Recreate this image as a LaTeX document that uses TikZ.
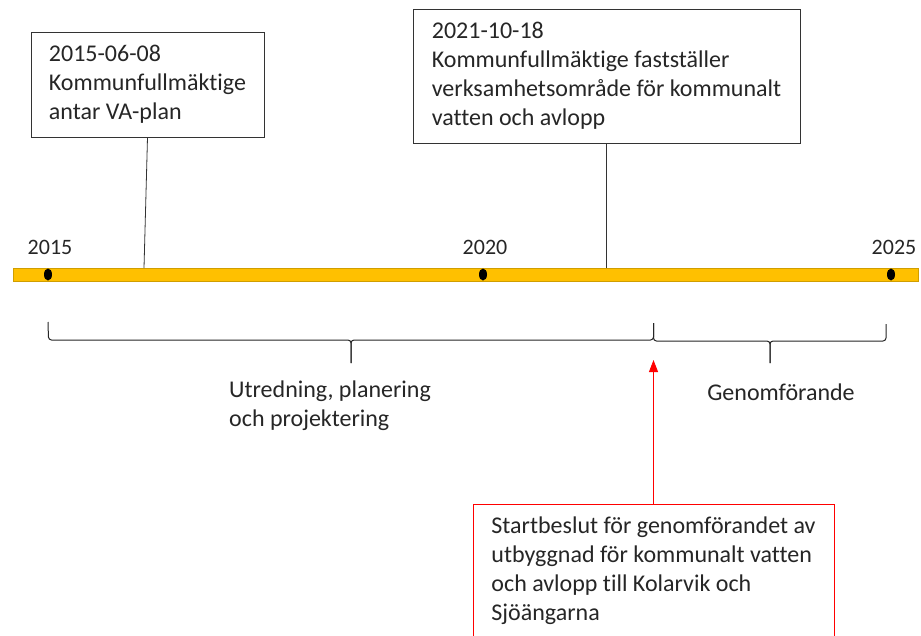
\documentclass[tikz,border=0pt]{standalone}
\usepackage{fontspec}
\setmainfont{Carlito}[Ligatures=NoCommon]
\usetikzlibrary{arrows.meta,shapes.geometric}
\definecolor{barfill}{HTML}{FFC000}
\definecolor{barline}{HTML}{D09E00}
\definecolor{txtgray}{HTML}{262626}
\tikzset{
	eventbox/.style={draw=black!80,line width=0.9pt,align=left,inner sep=0,text=txtgray,font=\fontsize{24}{29}\selectfont},
	yearlabel/.style={inner sep=0,text=txtgray,font=\fontsize{22}{26}\selectfont},
	yeardot/.style={ellipse,fill=black,inner sep=0,minimum width=8,minimum height=12},
	bracket/.style={draw=black!85,line width=1pt,rounded corners=3pt},
	conn/.style={draw=black!80,line width=0.8pt}
}

\begin{document}
\begin{tikzpicture}[x=1pt,y=-1pt]
	\clip (0,0) rectangle (921,635);
	\fill[white] (0,0) rectangle (921,635);
	% tidslinje
	\draw[barline,fill=barfill,line width=0.8pt] (13,268) rectangle (918,281);
	\node[yeardot] (d15) at (48,274.5) {};
	\node[yeardot] (d20) at (483,274.5) {};
	\node[yeardot] (d25) at (891,274.5) {};
	\node[yearlabel] (y15) at (50,247) {2015};
	\node[yearlabel] (y20) at (485,247) {2020};
	\node[yearlabel] (y25) at (894,247) {2025};
	% beslut
	\node[eventbox,minimum width=233,minimum height=105] (kf15) at (147.5,84.5) {2015-06-08\\Kommunfullmäktige\\antar VA-plan};
	\node[eventbox,minimum width=387,minimum height=134] (kf21) at (606.5,76) {2021-10-18\\Kommunfullmäktige fastställer\\verksamhetsområde för kommunalt\\vatten och avlopp};
	\coordinate (t15) at (144,268);
	\coordinate (t21) at (606.5,268);
	\draw[conn] (kf15.south) -- (t15);
	\draw[conn] (kf21.south) -- (t21);
	% faser
	\draw[bracket] (48,322) -- (48.5,340) -- (351,340) -- (351,363);
	\draw[bracket] (351,363) -- (351,340) -- (653.5,340) -- (653.5,323);
	\draw[bracket] (653.5,323) -- (653.5,341) -- (770,341) -- (770,363);
	\draw[bracket] (770,363) -- (770,341) -- (886,341) -- (886,324);
	\node[yearlabel,anchor=west,align=left,font=\fontsize{24}{29}\selectfont] (utr) at (229,406) {Utredning, planering\\och projektering};
	\node[yearlabel,font=\fontsize{24}{29}\selectfont] (gen) at (781,392) {Genomförande};
	% startbeslut
	\node[eventbox,draw=red,minimum width=361,minimum height=134] (start) at (653.5,571) {Startbeslut för genomförandet av\\utbyggnad för kommunalt vatten\\och avlopp till Kolarvik och\\Sjöängarna};
	\coordinate (rtip) at (653.5,360);
	\draw[red,line width=0.9pt,-{Triangle[width=9pt,length=12pt]}] (start.north) -- (rtip);
\end{tikzpicture}
\end{document}
